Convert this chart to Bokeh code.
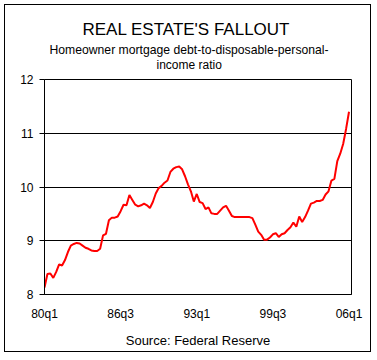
from bokeh.plotting import figure
from bokeh.models import Range1d, FixedTicker, Title
from bokeh.embed import file_html
from bokeh.resources import INLINE

# Homeowner mortgage debt-to-disposable-personal-income ratio, quarterly 1980q1..2006q1
ratio = [
    8.13, 8.38, 8.39, 8.31, 8.42, 8.56, 8.54, 8.64, 8.79, 8.91,
    8.94, 8.96, 8.95, 8.91, 8.87, 8.85, 8.82, 8.81, 8.81, 8.85,
    9.10, 9.13, 9.38, 9.43, 9.43, 9.45, 9.55, 9.67, 9.66, 9.85,
    9.76, 9.67, 9.64, 9.66, 9.69, 9.66, 9.61, 9.72, 9.88, 9.98,
    10.02, 10.08, 10.12, 10.28, 10.34, 10.37, 10.38, 10.33, 10.20, 10.05,
    9.92, 9.73, 9.87, 9.72, 9.70, 9.59, 9.62, 9.51, 9.50, 9.50,
    9.56, 9.62, 9.65, 9.56, 9.46, 9.44, 9.44, 9.44, 9.44, 9.44,
    9.44, 9.42, 9.30, 9.17, 9.11, 9.02, 9.02, 9.06, 9.12, 9.14,
    9.07, 9.12, 9.14, 9.20, 9.25, 9.34, 9.26, 9.45, 9.35, 9.44,
    9.56, 9.69, 9.71, 9.74, 9.74, 9.76, 9.86, 9.92, 10.12, 10.15,
    10.48, 10.62, 10.80, 11.08, 11.40,
]
quarter_index = list(range(len(ratio)))
x_tick_positions = [0, 26, 52, 78, 104]
x_tick_labels = ["80q1", "86q3", "93q1", "99q3", "06q1"]
y_ticks = [8, 9, 10, 11, 12]

title_text = "REAL ESTATE'S FALLOUT"
subtitle_lines = ["Homeowner mortgage debt-to-disposable-personal-", "income ratio"]
source_text = "Source: Federal Reserve"

FONT = "Liberation Sans"

p = figure(width=367, height=348, output_backend="svg", toolbar_location=None,
           x_range=Range1d(0, 104.85), y_range=Range1d(8, 12),
           min_border_left=39, min_border_right=21, min_border_top=74, min_border_bottom=59)
p.styles = {"border": "1px solid black", "margin-left": "4px", "margin-top": "4px"}
p.title.visible = False
p.background_fill_color = "white"
p.border_fill_color = "white"
p.outline_line_color = "black"
p.outline_line_width = 1

p.line(quarter_index, ratio, line_color="#ff0000", line_width=2)

# axes
p.xaxis.ticker = FixedTicker(ticks=x_tick_positions)
p.xaxis.major_label_overrides = {t: l for t, l in zip(x_tick_positions, x_tick_labels)}
p.xaxis.major_tick_out = 0
p.xaxis.major_tick_in = 0
p.xaxis.minor_tick_out = 0
p.xaxis.minor_tick_in = 0
p.xaxis.major_label_standoff = 12
p.xaxis.axis_label = source_text
p.xaxis.axis_label_standoff = 9
p.xaxis.axis_label_text_font = FONT
p.xaxis.axis_label_text_font_style = "normal"
p.xaxis.axis_label_text_font_size = "13px"
p.xaxis.axis_label_text_color = "black"

p.yaxis.ticker = FixedTicker(ticks=y_ticks)
p.yaxis.major_tick_out = 5
p.yaxis.major_tick_in = 0
p.yaxis.minor_tick_out = 0
p.yaxis.minor_tick_in = 0
p.yaxis.major_label_standoff = 6

for ax in (p.xaxis[0], p.yaxis[0]):
    ax.axis_line_color = "black"
    ax.major_tick_line_color = "black"
    ax.major_label_text_font = FONT
    ax.major_label_text_font_size = "12px"
    ax.major_label_text_color = "black"

p.xgrid.visible = False
p.ygrid.ticker = FixedTicker(ticks=y_ticks)
p.ygrid.grid_line_color = "black"
p.ygrid.grid_line_width = 1

# titles, added from the frame outward; left-aligned with offsets so that they
# are centred on the whole chart rather than on the plot frame
p.add_layout(Title(text=subtitle_lines[1], align="left", offset=112, standoff=15,
                   text_font=FONT, text_font_size="12px", text_font_style="normal",
                   text_color="black"), "above")
p.add_layout(Title(text=subtitle_lines[0], align="left", offset=5, standoff=-16,
                   text_font=FONT, text_font_size="12.2px", text_font_style="normal",
                   text_color="black"), "above")
p.add_layout(Title(text=title_text, align="left", offset=38, standoff=20,
                   text_font=FONT, text_font_size="17px", text_font_style="normal",
                   text_color="black"), "above")

open("out.html", "w").write(file_html(p, INLINE))
